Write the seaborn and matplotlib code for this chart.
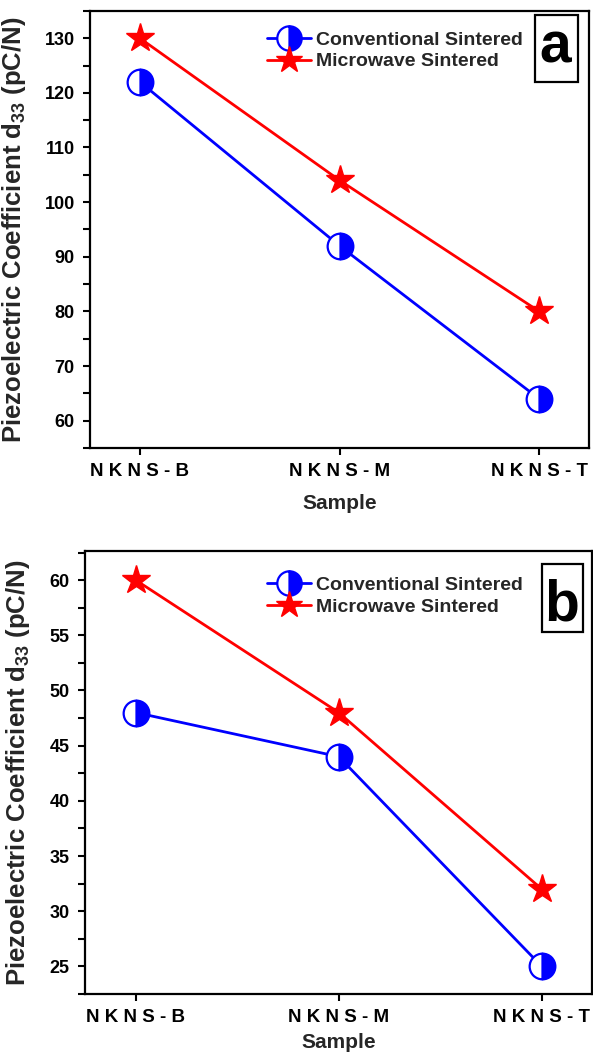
import matplotlib
matplotlib.use("Agg")
import matplotlib.pyplot as plt
import seaborn as sns
from matplotlib.patches import Rectangle
from matplotlib.ticker import MultipleLocator

samples = ["NKNS-B", "NKNS-M", "NKNS-T"]
tick_labels = ["N K N S - B", "N K N S - M", "N K N S - T"]

conv_a = [122, 92, 64]
micro_a = [130, 104, 80]
conv_b = [48, 44, 25]
micro_b = [60, 48, 32]

sns.set_style("ticks")
plt.rcParams["font.family"] = ["Liberation Sans", "DejaVu Sans"]
plt.rcParams["font.weight"] = "bold"
plt.rcParams["mathtext.fontset"] = "custom"
plt.rcParams["mathtext.rm"] = "Liberation Sans:bold"
plt.rcParams["mathtext.default"] = "rm"

fig = plt.figure(figsize=(5.93, 10.60), dpi=100)
ax_a = fig.add_axes([0.1518, 0.5774, 0.8415, 0.4123])
ax_b = fig.add_axes([0.1433, 0.0623, 0.8558, 0.4175])

BLUE = "#0000FF"
RED = "#FF0000"


def draw(ax, conv, micro, ylim, major, minor, letter, leg_xy, rect, letter_xy,
         ylab_x, xlab_y):
    sns.lineplot(x=samples, y=conv, ax=ax, color=BLUE, lw=2.0, marker="o",
                 markersize=18.5, fillstyle="right", mfc=BLUE,
                 markerfacecoloralt="white", mec=BLUE, mew=1.6,
                 label="Conventional Sintered", sort=False)
    sns.lineplot(x=samples, y=micro, ax=ax, color=RED, lw=2.0, marker="*",
                 markersize=21, mfc=RED, mec=RED, mew=1.0,
                 label="Microwave Sintered", sort=False)
    ax.set_xlim(-0.25, 2.25)
    ax.set_ylim(*ylim)
    ax.set_xticks([0, 1, 2])
    ax.set_xticklabels(tick_labels, fontsize=13.5, fontweight="bold")
    ax.yaxis.set_major_locator(MultipleLocator(major))
    ax.yaxis.set_minor_locator(MultipleLocator(minor))
    for lab in ax.get_yticklabels():
        lab.set_fontsize(13)
        lab.set_fontweight("bold")
    ax.tick_params(axis="both", which="major", direction="out", length=5,
                   width=1.5, colors="black", pad=6)
    ax.tick_params(axis="y", which="minor", direction="out", length=5,
                   width=1.5, colors="black")
    ax.tick_params(axis="x", which="minor", bottom=False)
    ax.tick_params(top=False, right=False)
    for sp in ax.spines.values():
        sp.set_visible(True)
        sp.set_linewidth(1.6)
        sp.set_color("black")
    ax.set_ylabel(r"Piezoelectric Coefficient d$_{33}$ (pC/N)", fontsize=18.5,
                  fontweight="bold")
    ax.set_xlabel("Sample", fontsize=15, fontweight="bold")
    ax.yaxis.set_label_coords(ylab_x, 0.5)
    ax.xaxis.set_label_coords(0.5, xlab_y)
    leg = ax.legend(loc="center left", bbox_to_anchor=leg_xy, frameon=False,
                    fontsize=14, handlelength=2.25, handletextpad=0.25,
                    labelspacing=0.2, borderpad=0, borderaxespad=0,
                    markerscale=0.95)
    for t in leg.get_texts():
        t.set_fontweight("bold")
    ax.add_patch(Rectangle((rect[0], rect[1]), rect[2], rect[3],
                           transform=ax.transAxes, fill=False, lw=1.6,
                           ec="black", zorder=5))
    ax.text(letter_xy[0], letter_xy[1], letter, transform=ax.transAxes,
            ha="center", va="baseline", fontsize=41, fontweight="bold",
            color="black")


draw(ax_a, conv_a, micro_a, (55, 135), 10, 5, "a",
     (0.3547, 0.9085), (0.892, 0.8375, 0.086, 0.153), (0.932, 0.8826),
     -0.124, -0.105)
draw(ax_b, conv_b, micro_b, (22.5, 62.6), 5, 2.5, "b",
     (0.3586, 0.899), (0.9005, 0.818, 0.0808, 0.1538), (0.94, 0.845),
     -0.104, -0.088)

fig.savefig("out.png", dpi=100, facecolor="white")
